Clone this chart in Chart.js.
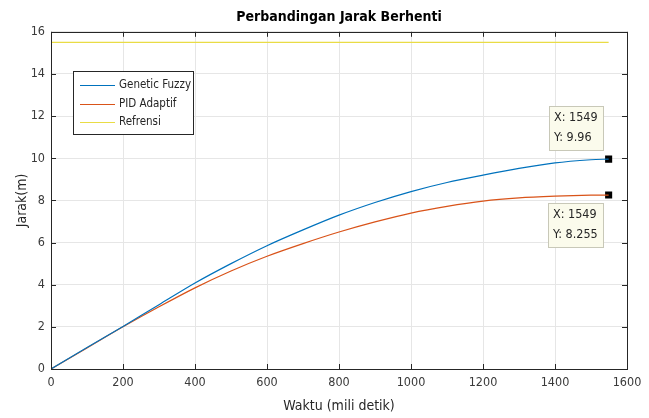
<!DOCTYPE html>
<html>
<head>
<meta charset="utf-8">
<script src="https://cdn.jsdelivr.net/npm/chart.js@4.4.1/dist/chart.umd.min.js"></script>
<style>
html, body { margin: 0; padding: 0; background: #fff; }
</style>
</head>
<body>
<canvas id="grafico" width="649" height="418"></canvas>
<script>
// data
const waktu = [0, 100, 200, 300, 400, 500, 600, 700, 800, 900, 1000, 1100, 1200, 1300, 1400, 1500, 1549];
const geneticFuzzy = [0, 1.02, 2.02, 3.05, 4.08, 5.0, 5.85, 6.6, 7.3, 7.9, 8.42, 8.85, 9.2, 9.52, 9.78, 9.93, 9.96];
const pidAdaptif = [0, 1.0, 2.0, 2.95, 3.85, 4.65, 5.35, 5.95, 6.5, 6.98, 7.4, 7.72, 7.97, 8.12, 8.2, 8.25, 8.255];
const refWaktu = [0, 1549];
const refrensi = [15.5, 15.5];
const labels = ["Genetic Fuzzy", "PID Adaptif", "Refrensi"];
const warna = ["#0072BD", "#D95319", "#E9DC45"];

const fontNarrow = "'Liberation Sans Narrow', 'DejaVu Sans Condensed', 'Liberation Sans', Arial, sans-serif";
Chart.defaults.font.family = fontNarrow;
Chart.defaults.color = "#3a3a3a";

const toPoints = (xs, ys) => xs.map((x, i) => ({ x: x, y: ys[i] }));
const last = waktu.length - 1;

// MATLAB-like box, inward ticks, legend and data tips
const matlabStyle = {
  id: "matlabStyle",
  afterDatasetsDraw(chart) {
    const ctx = chart.ctx;
    const a = chart.chartArea;
    const sx = chart.scales.x, sy = chart.scales.y;
    ctx.save();
    ctx.strokeStyle = "#262626";
    ctx.lineWidth = 1;
    ctx.beginPath();
    sx.ticks.forEach(t => {
      const px = Math.round(sx.getPixelForValue(t.value)) + 0.5;
      ctx.moveTo(px, a.bottom); ctx.lineTo(px, a.bottom - 5);
      ctx.moveTo(px, a.top); ctx.lineTo(px, a.top + 5);
    });
    sy.ticks.forEach(t => {
      const py = Math.round(sy.getPixelForValue(t.value)) + 0.5;
      ctx.moveTo(a.left, py); ctx.lineTo(a.left + 5, py);
      ctx.moveTo(a.right, py); ctx.lineTo(a.right - 5, py);
    });
    ctx.stroke();
    ctx.strokeRect(Math.round(a.left) + 0.5, Math.round(a.top) + 0.5,
      Math.round(a.right - a.left), Math.round(a.bottom - a.top));

    // legend
    const lx = Math.round(a.left + 22), ly = Math.round(a.top + 39), lw = 120, lh = 63;
    ctx.fillStyle = "#fff";
    ctx.fillRect(lx, ly, lw, lh);
    ctx.strokeStyle = "#262626";
    ctx.strokeRect(lx + 0.5, ly + 0.5, lw, lh);
    ctx.font = "11.5px " + fontNarrow;
    ctx.textBaseline = "middle";
    ctx.textAlign = "left";
    labels.forEach((lab, i) => {
      const ry = Math.round(ly + 14 + i * 18.5) + 0.5;
      ctx.strokeStyle = warna[i];
      ctx.beginPath();
      ctx.moveTo(lx + 7, ry); ctx.lineTo(lx + 42, ry);
      ctx.stroke();
      ctx.fillStyle = "#262626";
      ctx.fillText(lab, lx + 46, ry);
    });

    // data tips
    ctx.font = "12.5px " + fontNarrow;
    const tips = [
      { x: waktu[last], y: geneticFuzzy[last], above: true },
      { x: waktu[last], y: pidAdaptif[last], above: false }
    ];
    tips.forEach(tp => {
      const mx = sx.getPixelForValue(tp.x), my = sy.getPixelForValue(tp.y);
      const lines = ["X: " + tp.x, "Y: " + tp.y];
      const tw = Math.max(...lines.map(s => ctx.measureText(s).width));
      const bw = Math.round(tw + 10), bh = 44;
      const bx = Math.round(mx - 6 - bw);
      const by = tp.above ? Math.round(my - 9 - bh) : Math.round(my + 8);
      ctx.fillStyle = "#fbfbec";
      ctx.fillRect(bx, by, bw, bh);
      ctx.strokeStyle = "#c8c8b8";
      ctx.strokeRect(bx + 0.5, by + 0.5, bw, bh);
      ctx.fillStyle = "#262626";
      lines.forEach((s, i) => ctx.fillText(s, bx + 5, by + 12 + i * 19.5));
    });
    ctx.restore();
  }
};

new Chart(document.getElementById("grafico"), {
  type: "line",
  data: {
    datasets: [
      { label: labels[0], data: toPoints(waktu, geneticFuzzy), borderColor: warna[0], borderWidth: 1.2, pointRadius: 0, tension: 0.3 },
      { label: labels[1], data: toPoints(waktu, pidAdaptif), borderColor: warna[1], borderWidth: 1.2, pointRadius: 0, tension: 0.3 },
      { label: labels[2], data: toPoints(refWaktu, refrensi), borderColor: warna[2], borderWidth: 1.2, pointRadius: 0 },
      {
        label: "tips", type: "scatter",
        data: [{ x: waktu[last], y: geneticFuzzy[last] }, { x: waktu[last], y: pidAdaptif[last] }],
        pointStyle: "rect", pointRadius: 5, backgroundColor: "#000", borderColor: "#000", borderWidth: 0
      }
    ]
  },
  options: {
    responsive: false,
    animation: false,
    devicePixelRatio: 1,
    layout: { padding: { left: 0, right: 22, top: 0, bottom: 2 } },
    plugins: {
      legend: { display: false },
      tooltip: { enabled: false },
      title: {
        display: true,
        text: "Perbandingan Jarak Berhenti",
        fullSize: false,
        color: "#000",
        font: { size: 14, weight: "bold", family: fontNarrow },
        padding: { top: 9, bottom: 6 }
      }
    },
    scales: {
      x: {
        type: "linear",
        min: 0, max: 1600,
        ticks: { stepSize: 200, padding: 6, font: { size: 12.5 }, maxRotation: 0, callback: v => String(v) },
        grid: { color: "#e6e6e6", drawTicks: false },
        border: { display: false },
        title: { display: true, text: "Waktu (mili detik)", color: "#262626", font: { size: 14 }, padding: { top: 0, bottom: 1 } },
        afterFit(s) { s.height = 47; }
      },
      y: {
        min: 0, max: 16,
        ticks: { stepSize: 2, padding: 6, font: { size: 12.5 }, callback: v => String(v) },
        grid: { color: "#e6e6e6", drawTicks: false },
        border: { display: false },
        title: { display: true, text: "Jarak(m)", color: "#262626", font: { size: 14 }, padding: { top: 14, bottom: 14 } },
        afterFit(s) { s.width = 51; }
      }
    }
  },
  plugins: [matlabStyle]
});
</script>
</body>
</html>
